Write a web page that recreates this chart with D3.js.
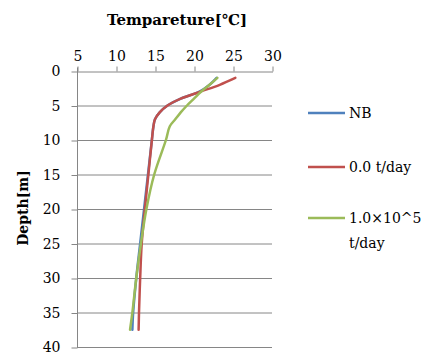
<!DOCTYPE html>
<html>
<head>
<meta charset="utf-8">
<script src="https://cdn.jsdelivr.net/npm/d3@7"></script>
<style>
  body { margin: 0; background: #fff; }
  svg text { font-family: "DejaVu Serif", "Liberation Serif", serif; fill: #000; }
  .axis path, .axis line { stroke: #868686; }
</style>
</head>
<body>
<svg id="chart" width="436" height="353"></svg>
<script>
// depth of each sample [m]
const depths = [1, 2, 3, 4, 5, 6, 7, 8, 10, 15, 20, 25, 30, 35, 37.5];
// temperature profiles [deg C]
const nbTemp = [22.9, 22.0, 20.7, 18.3, 16.6, 15.6, 15.0, 14.8, 14.6, 14.1, 13.6, 13.1, 12.6, 12.2, 12.1];
const zeroTemp = [25.3, 23.3, 20.8, 18.3, 16.6, 15.6, 15.0, 14.8, 14.6, 14.15, 13.7, 13.3, 13.1, 12.95, 12.9];
const highTemp = [23.0, 22.0, 20.9, 20.0, 19.1, 18.3, 17.6, 16.9, 16.4, 14.9, 13.9, 13.2, 12.6, 12.1, 11.8];

const seriesNames = ["NB", "0.0 t/day", ["1.0\u00d710^5", "t/day"]];
const seriesColors = ["#4F81BD", "#C0504D", "#9BBB59"];
const xTicks = [5, 10, 15, 20, 25, 30];
const yTicks = [0, 5, 10, 15, 20, 25, 30, 35, 40];

const svg = d3.select("#chart");

const x = d3.scaleLinear().domain([5, 30]).range([77, 272]);
const y = d3.scaleLinear().domain([0, 40]).range([71, 347]);

// gridlines
svg.append("g")
  .selectAll("line")
  .data(yTicks.slice(1))
  .join("line")
  .attr("x1", x(5))
  .attr("x2", x(30))
  .attr("y1", d => y(d) + 0.5)
  .attr("y2", d => y(d) + 0.5)
  .attr("stroke", "#868686");

// top axis
const xAxis = svg.append("g")
  .attr("class", "axis")
  .attr("transform", `translate(0.5,${y(0) + 0.5})`)
  .call(d3.axisTop(x).tickValues(xTicks).tickSize(5).tickSizeOuter(0));
xAxis.selectAll("text").attr("font-size", 14).attr("dy", "-0.2em");

// left axis
const yAxis = svg.append("g")
  .attr("class", "axis")
  .attr("transform", `translate(${x(5) + 0.5},0.5)`)
  .call(d3.axisLeft(y).tickValues(yTicks).tickSize(6).tickPadding(11).tickSizeOuter(0));
yAxis.selectAll("text").attr("font-size", 14);
yAxis.select(".domain").attr("d", `M0,${y(0) - 4}V${y(40)}`);

// titles
svg.append("text")
  .attr("x", 177)
  .attr("y", 25)
  .attr("text-anchor", "middle")
  .attr("font-size", 15)
  .attr("font-weight", "bold")
  .text("Tempareture[\u2103]");

svg.append("text")
  .attr("transform", "translate(28,208) rotate(-90)")
  .attr("text-anchor", "middle")
  .attr("font-size", 14)
  .attr("font-weight", "bold")
  .text("Depth[m]");

// profiles
const line = d3.line()
  .x(d => x(d[0]))
  .y(d => y(d[1]))
  .curve(d3.curveCatmullRom);

[nbTemp, zeroTemp, highTemp].forEach((temps, i) => {
  svg.append("path")
    .datum(temps.map((t, j) => [t, depths[j]]))
    .attr("fill", "none")
    .attr("stroke", seriesColors[i])
    .attr("stroke-width", 2.5)
    .attr("stroke-linecap", "round")
    .attr("d", line);
});

// legend
const legendY = [113, 167, 218];
const legend = svg.append("g")
  .selectAll("g")
  .data(seriesNames)
  .join("g")
  .attr("transform", (d, i) => `translate(308,${legendY[i]})`);

legend.append("line")
  .attr("x1", 0)
  .attr("x2", 37)
  .attr("stroke", (d, i) => seriesColors[i])
  .attr("stroke-width", 2.5);

legend.append("text")
  .attr("x", 41)
  .attr("y", 5)
  .attr("font-size", 14)
  .selectAll("tspan")
  .data(d => Array.isArray(d) ? d : [d])
  .join("tspan")
  .attr("x", 41)
  .attr("dy", (d, i) => i === 0 ? 0 : 25)
  .text(d => d);
</script>
</body>
</html>
